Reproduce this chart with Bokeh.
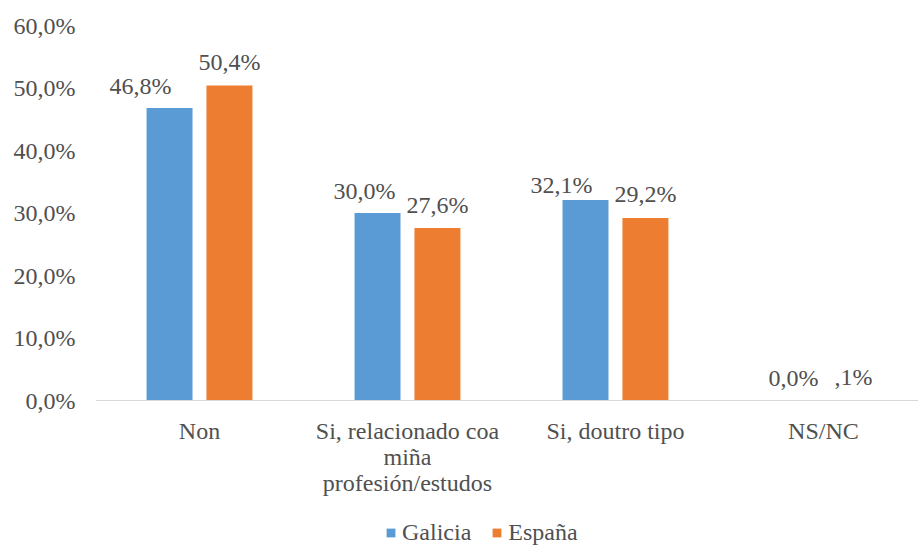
from bokeh.plotting import figure
from bokeh.models import (ColumnDataSource, Range1d, FixedTicker, Legend, LegendItem)
from bokeh.core.properties import value
from bokeh.embed import file_html
from bokeh.resources import INLINE

# ---- data ----
categories = ["Non", "Si, relacionado coa\nmiña\nprofesión/estudos", "Si, doutro tipo", "NS/NC"]
galicia = [46.8, 30.0, 32.1, 0.0]
espana = [50.4, 27.6, 29.2, 0.1]
galicia_labels = ["46,8%", "30,0%", "32,1%", "0,0%"]
espana_labels = ["50,4%", "27,6%", "29,2%", ",1%"]
y_ticks = [0, 10, 20, 30, 40, 50, 60]
y_tick_labels = ["0,0%", "10,0%", "20,0%", "30,0%", "40,0%", "50,0%", "60,0%"]
series_names = ["Galicia", "España"]

# ---- style ----
FONT = "Liberation Serif"
FS = "24px"
TXT = "#505050"
BLUE = "#5B9BD5"
ORANGE = "#ED7D31"
BAR_W = 0.221
OFF = 0.144
gal_dx = [-29, -13, -24, 0]
gal_dy = [-22, -22, -15, -23]
esp_dx = [0, 0, 0, 0]
esp_dy = [-24, -23, -24, -23]

centers = [i + 0.5 for i in range(len(categories))]

p = figure(frame_width=823, frame_height=520, output_backend="svg", toolbar_location=None,
           x_range=Range1d(0, 3.957), y_range=Range1d(-23.2, 60),
           min_border_left=95, min_border_right=0, min_border_top=25,
           min_border_bottom=0)
p.outline_line_color = None
p.xgrid.visible = False
p.ygrid.visible = False

src_g = ColumnDataSource(dict(x=[c - OFF for c in centers], top=galicia,
                              label=galicia_labels, dx=gal_dx, dy=gal_dy))
src_e = ColumnDataSource(dict(x=[c + OFF for c in centers], top=espana,
                              label=espana_labels, dx=esp_dx, dy=esp_dy))

rg = p.vbar(x="x", top="top", bottom=0, width=BAR_W, source=src_g,
            fill_color=BLUE, line_color=None)
re = p.vbar(x="x", top="top", bottom=0, width=BAR_W, source=src_e,
            fill_color=ORANGE, line_color=None)

for s in (src_g, src_e):
    p.text(x="x", y="top", text="label", source=s, x_offset="dx", y_offset="dy",
           text_align="center", text_baseline="alphabetic",
           text_font=value(FONT), text_font_size=value(FS), text_color=TXT)

xa = p.xaxis[0]
xa.fixed_location = 0
xa.ticker = FixedTicker(ticks=centers)
xa.major_label_overrides = {c: lab for c, lab in zip(centers, categories)}
xa.axis_line_color = "#D9D9D9"
xa.major_tick_line_color = None
xa.minor_tick_line_color = None
xa.major_tick_out = 0
xa.major_label_standoff = 17
xa.major_label_text_font = FONT
xa.major_label_text_font_size = FS
xa.major_label_text_line_height = 1.0
xa.major_label_text_color = TXT

ya = p.yaxis[0]
ya.ticker = FixedTicker(ticks=y_ticks)
ya.major_label_overrides = {t: lab for t, lab in zip(y_ticks, y_tick_labels)}
ya.axis_line_color = None
ya.major_tick_line_color = None
ya.minor_tick_line_color = None
ya.major_tick_out = 0
ya.major_label_standoff = 20
ya.major_label_text_font = FONT
ya.major_label_text_font_size = FS
ya.major_label_text_color = TXT

legend = Legend(items=[LegendItem(label=series_names[0], renderers=[rg]),
                       LegendItem(label=series_names[1], renderers=[re])],
                orientation="horizontal", location=(290, -1),
                glyph_width=11, glyph_height=11, label_standoff=6, spacing=20,
                padding=0, margin=0, border_line_color=None,
                background_fill_alpha=0,
                label_text_font=FONT, label_text_font_size=FS,
                label_text_color=TXT)
p.add_layout(legend, "center")

open("out.html", "w").write(file_html(p, INLINE))
